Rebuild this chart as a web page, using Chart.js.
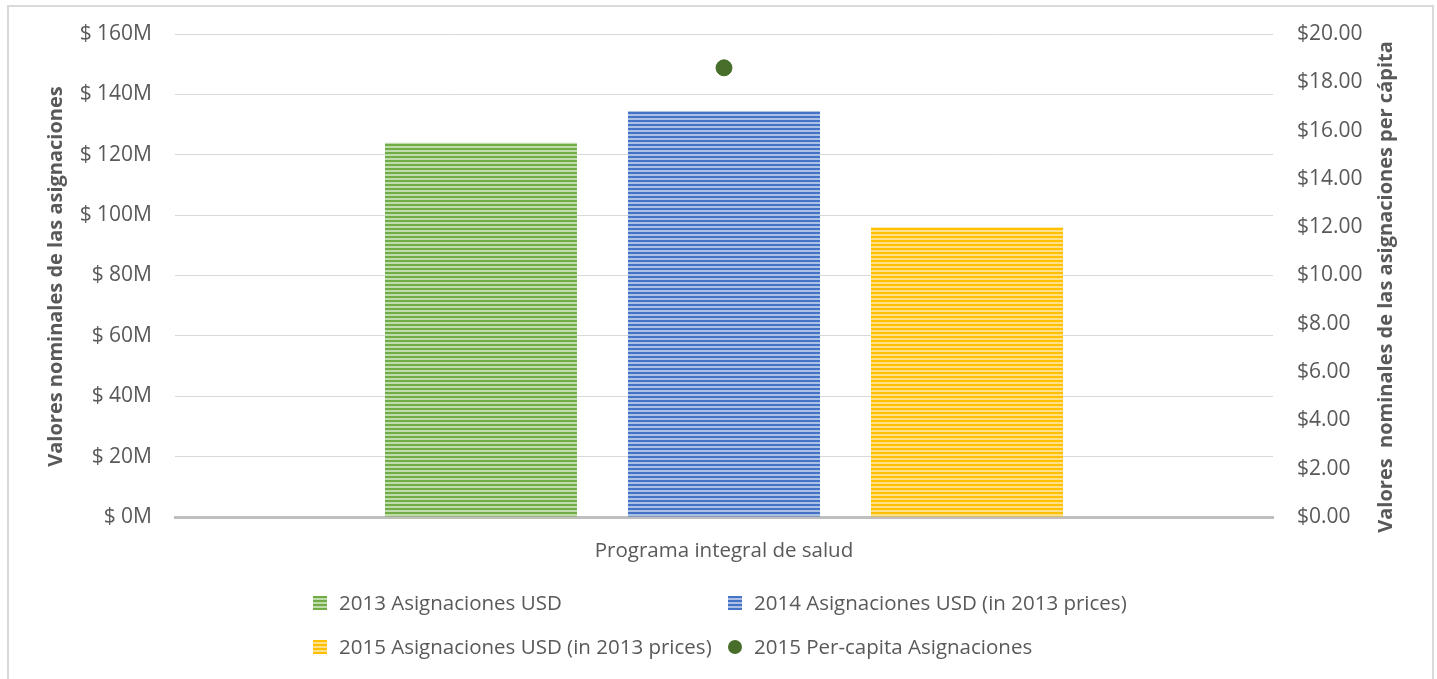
<!DOCTYPE html>
<html>
<head>
<meta charset="utf-8">
<script src="https://cdn.jsdelivr.net/npm/chart.js@4"></script>
<style>
  body { margin: 0; background: #fff; font-family: "Open Sans", sans-serif; color: #595959; }
  #wrap { position: relative; width: 1437px; height: 679px; overflow: hidden; }
  #frame { position: absolute; left: 7px; top: 5px; width: 1427px; height: 720px; border: 2px solid #d9d9d9; box-sizing: border-box; }
  #chart { position: absolute; left: 0; top: 0; }
  .lg { position: absolute; font-size: 20.5px; line-height: 28px; white-space: nowrap; }
  .sw { position: absolute; width: 14px; height: 14px; }
</style>
</head>
<body>
<div id="wrap">
  <div id="frame"></div>
  <canvas id="chart" width="1437" height="679"></canvas>
  <div id="legend"></div>
</div>
<script>
// Data
const categories = ['Programa integral de salud'];
const seriesNames = [
  '2013 Asignaciones USD',
  '2014 Asignaciones USD (in 2013 prices)',
  '2015 Asignaciones USD (in 2013 prices)',
  '2015 Per-capita Asignaciones'
];
const alloc2013 = [124e6];
const alloc2014 = [134.5e6];
const alloc2015 = [96e6];
const perCapita2015 = [18.6];

const leftMax = 160e6;
const leftStep = 20e6;
const rightMax = 20;
const rightStep = 2;

const leftTitle = 'Valores nominales de las asignaciones';
const rightTitle = 'Valores  nominales de las asignaciones per cápita';

const colors = ['#70ad47', '#4472c4', '#ffc000'];
const lightColors = ['#c0dcad', '#acc0e6', '#ffe08a'];
const dotColor = '#476e2a';
const textColor = '#595959';

/**
 * Horizontal stripe pattern like Excel's narrow horizontal fill
 */
function makeStripes(color, light) {
  const c = document.createElement('canvas');
  c.width = 4;
  c.height = 4;
  const g = c.getContext('2d');
  g.fillStyle = light;
  g.fillRect(0, 0, 4, 4);
  g.fillStyle = color;
  g.fillRect(0, 0, 4, 2);
  return g.createPattern(c, 'repeat');
}

// Rotated axis titles (both read bottom-to-top)
const axisTitles = {
  id: 'axisTitles',
  afterDraw(chart) {
    const ctx = chart.ctx;
    const area = chart.chartArea;
    ctx.save();
    ctx.font = 'bold 20px "Open Sans"';
    ctx.fillStyle = textColor;
    ctx.textAlign = 'center';
    ctx.textBaseline = 'middle';
    ctx.translate(56, (area.top + area.bottom) / 2 + 1);
    ctx.rotate(-Math.PI / 2);
    ctx.fillText(leftTitle, 0, 0);
    ctx.restore();

    ctx.save();
    ctx.font = 'bold 20px "Open Sans"';
    ctx.fillStyle = textColor;
    ctx.textAlign = 'center';
    ctx.textBaseline = 'middle';
    ctx.translate(1386, 287);
    ctx.rotate(-Math.PI / 2);
    ctx.fillText(rightTitle, 0, 0);
    ctx.restore();
  }
};

const barData = [alloc2013, alloc2014, alloc2015];
const datasets = barData.map((vals, i) => ({
  type: 'bar',
  label: seriesNames[i],
  data: vals,
  backgroundColor: makeStripes(colors[i], lightColors[i]),
  borderWidth: 0,
  yAxisID: 'y',
  order: 2,
  categoryPercentage: 0.664,
  barPercentage: 0.79
}));
datasets.push({
  type: 'line',
  label: seriesNames[3],
  data: perCapita2015,
  showLine: false,
  pointRadius: 8,
  pointBackgroundColor: dotColor,
  pointBorderColor: dotColor,
  yAxisID: 'y1',
  order: 1
});

Chart.defaults.font.family = '"Open Sans", sans-serif';
Chart.defaults.font.size = 21;
Chart.defaults.color = textColor;

new Chart(document.getElementById('chart').getContext('2d'), {
  data: { labels: categories, datasets: datasets },
  plugins: [axisTitles],
  options: {
    responsive: false,
    animation: false,
    layout: { padding: { top: 34, left: 0, right: 0, bottom: 0 } },
    plugins: {
      legend: { display: false },
      tooltip: { enabled: false }
    },
    scales: {
      x: {
        grid: { display: false },
        border: { display: true, color: '#bfbfbf', width: 3 },
        ticks: { padding: 14, color: textColor, font: { size: 20.5 } },
        afterFit: (scale) => { scale.height = 679 - 517; }
      },
      y: {
        position: 'left',
        min: 0,
        max: leftMax,
        ticks: {
          stepSize: leftStep,
          padding: 23,
          color: textColor,
          font: { size: 21, lineHeight: 1 },
          callback: (v) => '$ ' + (v / 1e6) + 'M'
        },
        grid: {
          drawTicks: false,
          color: (c) => (c.tick && c.tick.value === 0 ? 'rgba(0,0,0,0)' : '#d9d9d9')
        },
        border: { display: false },
        afterFit: (scale) => {
          scale.width = 175;
          scale.paddingTop = 0;
          scale.paddingBottom = 0;
        }
      },
      y1: {
        position: 'right',
        min: 0,
        max: rightMax,
        ticks: {
          stepSize: rightStep,
          padding: 24,
          color: textColor,
          font: { size: 21, lineHeight: 1 },
          callback: (v) => '$' + v.toFixed(2)
        },
        grid: { display: false, drawTicks: false },
        border: { display: false },
        afterFit: (scale) => {
          scale.width = 1437 - 1273;
          scale.paddingTop = 0;
          scale.paddingBottom = 0;
        }
      }
    }
  }
});

// HTML legend laid out in two columns like the original
const legendSlots = [
  { x: 313, y: 603 },
  { x: 728, y: 603 },
  { x: 313, y: 647 },
  { x: 728, y: 647 }
];
const legend = document.getElementById('legend');
seriesNames.forEach((name, i) => {
  const slot = legendSlots[i];
  const sw = document.createElement('div');
  sw.className = 'sw';
  sw.style.left = slot.x + 'px';
  sw.style.top = (slot.y - 7) + 'px';
  if (i < 3) {
    sw.style.background = 'repeating-linear-gradient(to bottom, ' + colors[i] + ' 0 2px, ' + lightColors[i] + ' 2px 4px)';
  } else {
    sw.style.background = dotColor;
    sw.style.borderRadius = '50%';
  }
  legend.appendChild(sw);
  const tx = document.createElement('div');
  tx.className = 'lg';
  tx.style.left = (slot.x + 26) + 'px';
  tx.style.top = (slot.y - 15) + 'px';
  tx.textContent = name;
  legend.appendChild(tx);
});
</script>
</body>
</html>
